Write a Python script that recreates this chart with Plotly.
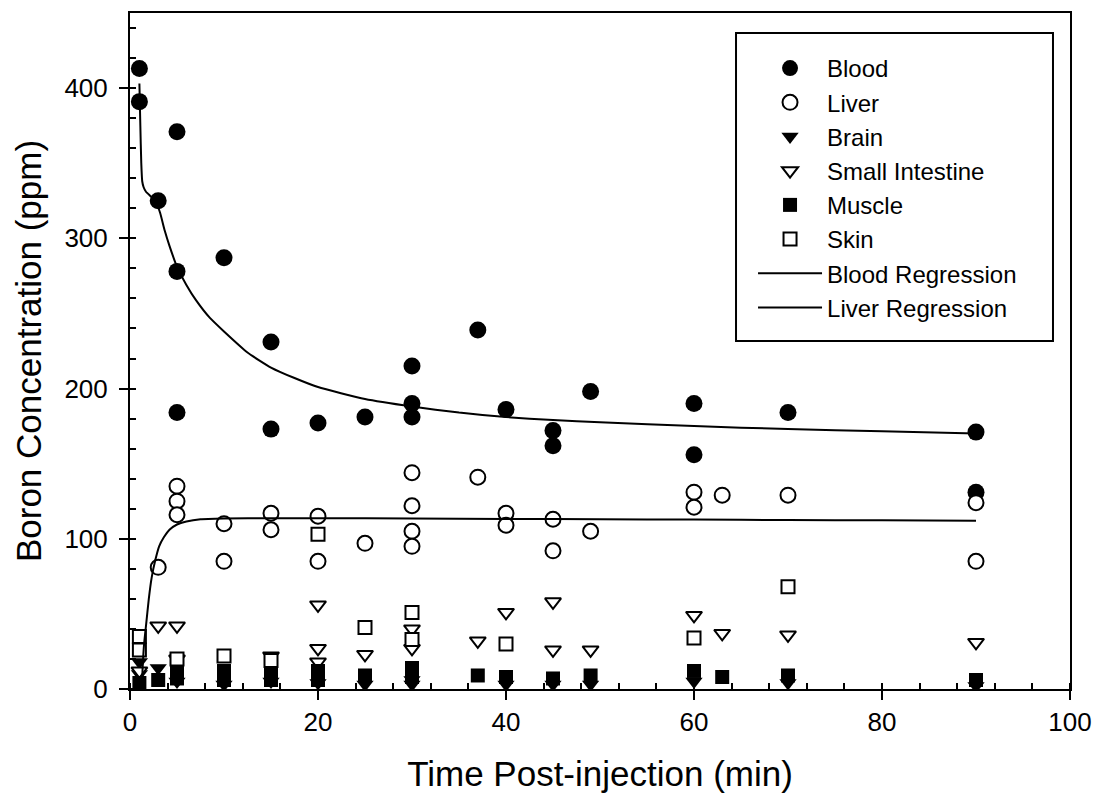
import plotly.graph_objects as go

# ---- data ----
blood_x = [1, 1, 3, 5, 5, 5, 10, 15, 15, 20, 25, 30, 30, 30, 37, 40, 45, 45, 49, 60, 60, 70, 90, 90]
blood_y = [413, 391, 325, 371, 278, 184, 287, 231, 173, 177, 181, 215, 190, 181, 239, 186, 172, 162, 198, 190, 156, 184, 171, 131]

liver_x = [3, 5, 5, 5, 10, 10, 15, 15, 20, 20, 25, 30, 30, 30, 30, 37, 40, 40, 45, 45, 49, 60, 60, 63, 70, 90, 90]
liver_y = [81, 135, 125, 116, 110, 85, 117, 106, 115, 85, 97, 144, 122, 105, 95, 141, 117, 109, 113, 92, 105, 131, 121, 129, 129, 124, 85]

brain_x = [1, 1, 3, 5, 10, 15, 20, 25, 30, 30, 40, 45, 49, 60, 70, 90]
brain_y = [18, 10, 14, 5, 3, 5, 4, 3, 3, 6, 3, 3, 3, 5, 4, 2]

si_x = [1, 3, 5, 5, 15, 20, 20, 20, 25, 30, 30, 37, 40, 45, 45, 49, 60, 63, 70, 90]
si_y = [12, 42, 42, 20, 22, 56, 27, 18, 23, 40, 27, 32, 51, 58, 26, 26, 49, 37, 36, 31]

muscle_x = [1, 3, 5, 5, 10, 10, 15, 15, 20, 20, 25, 30, 30, 37, 40, 45, 49, 60, 63, 70, 90]
muscle_y = [4, 6, 13, 7, 12, 6, 11, 6, 12, 6, 9, 14, 8, 9, 8, 7, 9, 12, 8, 9, 6]

skin_x = [1, 1, 5, 10, 15, 20, 25, 30, 30, 40, 60, 70]
skin_y = [35, 26, 20, 22, 19, 103, 41, 51, 33, 30, 34, 68]

blood_reg_x = [1.0, 1.1, 1.2, 1.3, 1.45, 1.7, 2.2, 2.7, 3.2, 3.7, 4.2, 5.0, 6.0, 7.0, 8.5, 10, 12.5, 15, 17.5, 20,
               25, 30, 35, 40, 45, 50, 60, 70, 80, 90]
blood_reg_y = [403, 375, 350, 338, 334, 331, 328, 325, 317, 305, 295, 281, 269, 259, 247, 238, 224, 214, 207, 201,
               193, 188, 184, 181, 179, 177.5, 175, 173, 171.5, 170]

liver_reg_x = [1.25, 1.35, 1.5, 1.7, 2.0, 2.3, 2.7, 3.1, 3.6, 4.2, 5.0, 6.0, 7.5, 10, 15, 20, 30, 40, 50, 60, 70, 80, 90]
liver_reg_y = [0, 15, 30, 42, 60, 74, 86, 95, 101, 106, 109.5, 111.5, 113, 113.5, 113.7, 113.7, 113.5, 113.2, 113,
               112.8, 112.5, 112.3, 112]

x_ticks = [0, 20, 40, 60, 80, 100]
y_ticks = [0, 100, 200, 300, 400]

FONT = "Liberation Sans, Arial, sans-serif"

fig = go.Figure()


def pts(name, x, y, symbol, size, fill, lw):
    fig.add_trace(go.Scatter(
        x=x, y=y, mode="markers", name=name,
        marker=dict(symbol=symbol, size=size, color=fill,
                    line=dict(color="black", width=lw)),
    ))


pts("Blood", blood_x, blood_y, "circle", 17, "black", 0)
pts("Liver", liver_x, liver_y, "circle", 15, "white", 2)
pts("Brain", brain_x, brain_y, "triangle-down", 15, "black", 0)
pts("Small Intestine", si_x, si_y, "triangle-down", 14, "white", 2)
pts("Muscle", muscle_x, muscle_y, "square", 14, "black", 0)
pts("Skin", skin_x, skin_y, "square", 13, "white", 2)

fig.add_trace(go.Scatter(x=blood_reg_x, y=blood_reg_y, mode="lines", name="Blood Regression",
                         line=dict(color="black", width=2, shape="spline", smoothing=0.5)))
fig.add_trace(go.Scatter(x=liver_reg_x, y=liver_reg_y, mode="lines", name="Liver Regression",
                         line=dict(color="black", width=2, shape="spline", smoothing=0.5)))

axis_common = dict(
    showline=True, linecolor="black", linewidth=2, mirror=True,
    ticks="outside", ticklen=9, tickwidth=2, tickcolor="black",
    showgrid=False, zeroline=False, automargin=False,
    tickfont=dict(family=FONT, size=26, color="black"),
)

fig.update_xaxes(
    range=[0, 100], tickvals=x_ticks,
    minor=dict(dtick=4, tick0=0, ticks="inside", ticklen=6, tickwidth=1.5, tickcolor="black", showgrid=False),
    title=dict(text="Time Post-injection (min)", font=dict(family=FONT, size=35, color="black"), standoff=25),
    **axis_common,
)
fig.update_yaxes(
    range=[0, 450], tickvals=y_ticks, ticklabelstandoff=6,
    minor=dict(dtick=20, tick0=0, ticks="inside", ticklen=6, tickwidth=1.5, tickcolor="black", showgrid=False),
    title=dict(text="Boron Concentration (ppm)", font=dict(family=FONT, size=35, color="black"), standoff=12),
    **axis_common,
)

# legend frame drawn as a rectangle (the reference box has generous padding)
fig.add_shape(type="rect", xref="paper", yref="paper",
              x0=0.6447, x1=0.9819, y0=0.5148, y1=0.9704,
              line=dict(color="black", width=2), fillcolor="rgba(0,0,0,0)", layer="above")

fig.update_layout(
    width=1099, height=800,
    margin=dict(l=130, r=29, t=13, b=111),
    paper_bgcolor="white", plot_bgcolor="white",
    font=dict(family=FONT, color="black"),
    legend=dict(
        x=0.6628, y=0.9512, xanchor="left", yanchor="top",
        borderwidth=0, bgcolor="rgba(0,0,0,0)",
        font=dict(family=FONT, size=24, color="black"),
        itemsizing="trace", tracegroupgap=0,
        itemwidth=64,
    ),
)

fig.write_html("out.html")
